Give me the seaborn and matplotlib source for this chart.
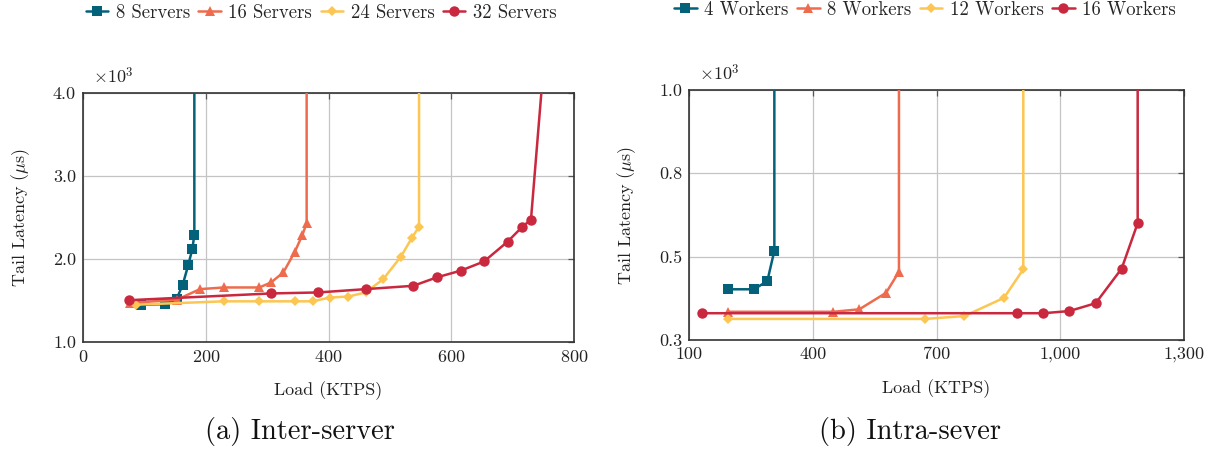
import numpy as np
import pandas as pd
import matplotlib
matplotlib.use("Agg")
import matplotlib.pyplot as plt
from matplotlib.ticker import FormatStrFormatter, FuncFormatter
import seaborn as sns

# ---- data: load (KTPS) and tail latency (x10^3 us) ----
srv8_x = [94.5, 133.6, 152.6, 162.3, 171.6, 178.1, 181.4, 181.4]
srv8_y = [1.45, 1.456, 1.52, 1.686, 1.93, 2.12, 2.29, 12.0]
srv16_x = [77.0, 152.6, 190.6, 229.7, 287.3, 306.3, 326.4, 345.4, 357.4, 364.4, 364.4]
srv16_y = [1.47, 1.508, 1.637, 1.657, 1.657, 1.717, 1.838, 2.09, 2.29, 2.43, 12.0]
srv24_x = [86.4, 229.7, 287.3, 345.4, 374.2, 402.4, 432.3, 460.6, 489.3, 518.1, 535.5, 547.5, 547.5]
srv24_y = [1.45, 1.49, 1.49, 1.49, 1.49, 1.536, 1.548, 1.597, 1.758, 2.03, 2.25, 2.39, 12.0]
srv32_x = [75.5, 306.3, 383.4, 460.6, 538.2, 576.2, 615.2, 653.4, 692.0, 714.7, 729.9, 770.0]
srv32_y = [1.504, 1.585, 1.597, 1.637, 1.677, 1.778, 1.859, 1.97, 2.21, 2.38, 2.475, 6.1]

wk4_x = [195.4, 257.6, 289.9, 306.9, 306.9]
wk4_y = [0.442, 0.442, 0.465, 0.55, 3.0]
wk8_x = [195.4, 449.9, 513.0, 577.6, 609.0, 609.0]
wk8_y = [0.379, 0.379, 0.386, 0.432, 0.491, 3.0]
wk12_x = [195.4, 672.0, 767.4, 863.6, 910.4, 910.4]
wk12_y = [0.359, 0.359, 0.367, 0.418, 0.498, 3.0]
wk16_x = [130.7, 894.3, 958.9, 1022.0, 1085.9, 1148.9, 1187.7, 1187.7]
wk16_y = [0.375, 0.375, 0.375, 0.381, 0.403, 0.5, 0.627, 3.0]

inter_labels = ["8 Servers", "16 Servers", "24 Servers", "32 Servers"]
intra_labels = ["4 Workers", "8 Workers", "12 Workers", "16 Workers"]

colors = ["#03617a", "#ee6c4d", "#fdc652", "#c9283e"]
markers = ["s", "^", "D", "o"]
msizes = [6.5, 7.0, 5.5, 7.5]

sns.set_theme(style="white")
plt.rcParams["font.family"] = ["cmr10", "DejaVu Serif"]
plt.rcParams["mathtext.fontset"] = "cm"
plt.rcParams["axes.formatter.use_mathtext"] = True
plt.rcParams["axes.unicode_minus"] = False

fig = plt.figure(figsize=(12.15, 4.49), dpi=100)
ax1 = fig.add_axes([83 / 1215, 1 - 342 / 449, 491 / 1215, 249 / 449])
ax2 = fig.add_axes([689 / 1215, 1 - 340 / 449, 495 / 1215, 250 / 449])


def draw(ax, xs, ys, labels):
    for i, (x, y, lab) in enumerate(zip(xs, ys, labels)):
        df = pd.DataFrame({"load": x, "lat": y})
        sns.lineplot(data=df, x="load", y="lat", ax=ax, sort=False,
                     estimator=None, errorbar=None,
                     color=colors[i], marker=markers[i], markersize=msizes[i],
                     markeredgewidth=0, linewidth=1.8, label=lab, zorder=3 + i)


def style(ax):
    ax.grid(True, color="#c4c4c4", linewidth=0.9)
    ax.set_axisbelow(True)
    for s in ax.spines.values():
        s.set_color("#333333")
        s.set_linewidth(1.2)
    ax.tick_params(direction="in", length=4, width=0.9, color="#555555",
                   top=True, right=True, labelsize=13, pad=5,
                   labelcolor="#222222")
    ax.set_xlabel("Load (KTPS)", fontsize=13, labelpad=12, color="#222222")
    ax.set_ylabel(r"Tail Latency ($\mu$s)", fontsize=13, labelpad=15,
                  color="#222222")


draw(ax1, [srv8_x, srv16_x, srv24_x, srv32_x],
     [srv8_y, srv16_y, srv24_y, srv32_y], inter_labels)
ax1.set_xlim(0, 800)
ax1.set_ylim(1.0, 4.0)
ax1.set_xticks([0, 200, 400, 600, 800])
ax1.set_yticks([1.0, 2.0, 3.0, 4.0])
ax1.yaxis.set_major_formatter(FormatStrFormatter("%.1f"))
style(ax1)

draw(ax2, [wk4_x, wk8_x, wk12_x, wk16_x],
     [wk4_y, wk8_y, wk12_y, wk16_y], intra_labels)
ax2.set_xlim(100, 1300)
ax2.set_ylim(0.3, 1.0)
ax2.set_xticks([100, 400, 700, 1000, 1300])
ax2.set_yticks(np.linspace(0.3, 1.0, 4))
ax2.yaxis.set_major_formatter(FormatStrFormatter("%.1f"))
ax2.xaxis.set_major_formatter(FuncFormatter(lambda v, p: f"{v:,.0f}"))
style(ax2)

for ax in (ax1, ax2):
    ax.text(0.02, 1.025, r"$\times 10^{3}$", transform=ax.transAxes,
            fontsize=13, ha="left", va="bottom", color="#222222")

for ax, anchor in ((ax1, (321 / 1215, 1 - 13 / 449)), (ax2, (925 / 1215, 1 - 10 / 449))):
    h, l = ax.get_legend_handles_labels()
    ax.get_legend().remove()
    fig.legend(h, l, loc="center", bbox_to_anchor=anchor, ncol=4, frameon=False,
               fontsize=13.5, handlelength=1.2, handletextpad=0.4,
               columnspacing=0.45, borderaxespad=0)

fig.text(300 / 1215, 1 - 432 / 449, "(a) Inter-server", ha="center", va="center",
         fontsize=20.5, color="#111111")
fig.text(910 / 1215, 1 - 432 / 449, "(b) Intra-sever", ha="center", va="center",
         fontsize=20.5, color="#111111")

fig.savefig("out.png", dpi=100)
